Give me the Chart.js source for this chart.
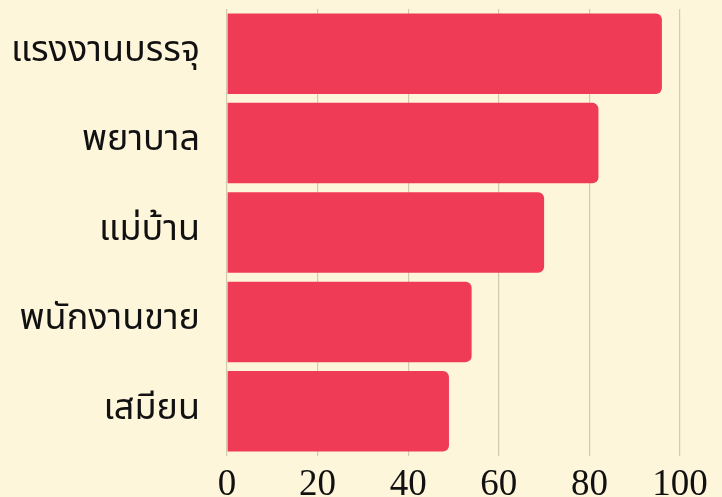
<!DOCTYPE html>
<html lang="th">
<head>
  <meta charset="UTF-8">
  <title>Occupations</title>
  <script src="https://cdn.jsdelivr.net/npm/chart.js"></script>
  <style>
    html, body {
      margin: 0;
      padding: 0;
      background: #fdf6db;
    }
    .wrap {
      width: 722px;
      height: 497px;
    }
  </style>
</head>
<body>
  <div class="wrap">
    <canvas id="barChart"></canvas>
  </div>

  <script>
    const jobs = ["แรงงานบรรจุ", "พยาบาล", "แม่บ้าน", "พนักงานขาย", "เสมียน"];
    const values = [96, 82, 70, 54, 49];
    const xTicks = [0, 20, 40, 60, 80, 100];

    const ctx = document.getElementById("barChart").getContext("2d");
    new Chart(ctx, {
      type: 'bar',
      data: {
        labels: jobs,
        datasets: [{
          data: values,
          backgroundColor: '#ef3b55',
          borderRadius: 6,
          barPercentage: 0.9,
          categoryPercentage: 1
        }]
      },
      options: {
        indexAxis: 'y',
        responsive: true,
        maintainAspectRatio: false,
        animation: false,
        layout: { padding: { top: 9, right: 42, bottom: 0, left: 0 } },
        plugins: {
          legend: { display: false },
          tooltip: { enabled: false }
        },
        scales: {
          x: {
            min: 0,
            max: 100,
            afterBuildTicks: axis => { axis.ticks = xTicks.map(v => ({ value: v })); },
            afterFit: axis => { axis.height = 41; },
            border: { display: false },
            grid: { color: '#d3cbb0', lineWidth: 1.2, drawTicks: false },
            ticks: {
              color: '#111',
              padding: 7,
              font: { family: "'Liberation Serif', 'DejaVu Serif', serif", size: 37 }
            }
          },
          y: {
            afterFit: axis => {
              axis.width = 227;
              axis.paddingTop = 0;
              axis.paddingBottom = 0;
            },
            border: { display: false },
            grid: { display: false, drawTicks: false },
            ticks: {
              color: '#111',
              padding: 27,
              font: { family: "'Noto Sans Thai', 'Noto Sans', 'DejaVu Sans', sans-serif", size: 36 }
            }
          }
        }
      }
    });
  </script>
</body>
</html>
